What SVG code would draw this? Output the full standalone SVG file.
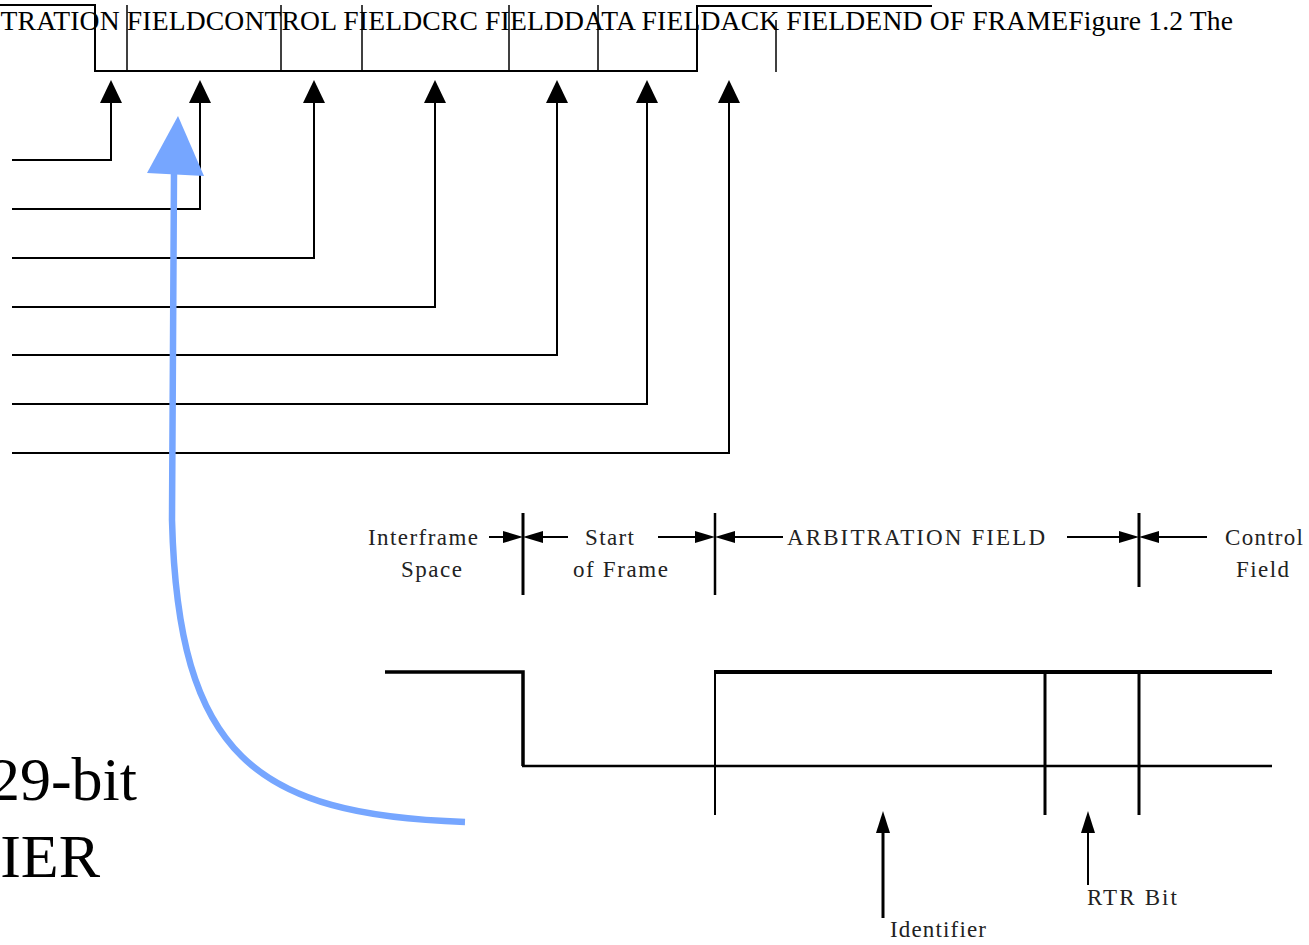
<svg xmlns="http://www.w3.org/2000/svg" width="1309" height="945" viewBox="0 0 1309 945">
<style>
.ln{stroke:#000;stroke-width:2;fill:none}
.lnt{stroke:#000;stroke-width:1.5;fill:none}
.thick{stroke:#000;stroke-width:3.5;fill:none}
.ah{fill:#000}
.top{font-family:"Liberation Serif","Times New Roman",serif;font-size:27.6px;fill:#000}
.lbl{font-family:"Liberation Serif","Times New Roman",serif;font-size:23px;fill:#222}
.big{font-family:"Liberation Serif","Times New Roman",serif;font-size:62px;fill:#000}
</style>
<rect width="1309" height="945" fill="#fff"/>
<g id="frame-top">
<text class="top" x="-66" y="30" textLength="1299" lengthAdjust="spacing">ARBITRATION FIELDCONTROL FIELDCRC FIELDDATA FIELDACK FIELDEND OF FRAMEFigure 1.2 The</text>
<polyline class="ln" points="0,5 95,5 95,71 697,71 697,6 932,6"/>
<line class="lnt" x1="127" y1="5" x2="127" y2="71"/>
<line class="lnt" x1="281" y1="5" x2="281" y2="71"/>
<line class="lnt" x1="362" y1="5" x2="362" y2="71"/>
<line class="lnt" x1="509" y1="5" x2="509" y2="71"/>
<line class="lnt" x1="598" y1="5" x2="598" y2="71"/>
<line class="lnt" x1="776" y1="20" x2="776" y2="72"/>
</g>
<g id="connectors-top">
<polyline class="ln" points="12,160 111,160 111,100"/>
<polygon class="ah" points="111,80 100,103 122,103"/>
<polyline class="ln" points="12,209 200,209 200,100"/>
<polygon class="ah" points="200,80 189,103 211,103"/>
<polyline class="ln" points="12,258 314,258 314,100"/>
<polygon class="ah" points="314,80 303,103 325,103"/>
<polyline class="ln" points="12,307 435,307 435,100"/>
<polygon class="ah" points="435,80 424,103 446,103"/>
<polyline class="ln" points="12,355 557,355 557,100"/>
<polygon class="ah" points="557,80 546,103 568,103"/>
<polyline class="ln" points="12,404 647,404 647,100"/>
<polygon class="ah" points="647,80 636,103 658,103"/>
<polyline class="ln" points="12,453 729,453 729,100"/>
<polygon class="ah" points="729,80 718,103 740,103"/>
</g>
<g id="big-label">
<text class="big" x="137" y="800" text-anchor="end">29-bit</text>
<text class="big" x="100" y="877" text-anchor="end">IER</text>
</g>
<g id="blue-arrow">
<path d="M465,822 C255,815 178,755 172,520 L174,172" stroke="#76A6FF" stroke-width="6.5" fill="none"/>
<polygon points="178,116 147,173 204,176" fill="#76A6FF"/>
</g>
<g id="field-labels">
<text class="lbl" x="368" y="545" textLength="110" lengthAdjust="spacing">Interframe</text>
<text class="lbl" x="401" y="577" textLength="61" lengthAdjust="spacing">Space</text>
<text class="lbl" x="585" y="545" textLength="49" lengthAdjust="spacing">Start</text>
<text class="lbl" x="573" y="577" textLength="95" lengthAdjust="spacing">of Frame</text>
<text class="lbl" x="787" y="545" textLength="258" lengthAdjust="spacing">ARBITRATION FIELD</text>
<text class="lbl" x="1225" y="545" textLength="78" lengthAdjust="spacing">Control</text>
<text class="lbl" x="1236" y="577" textLength="53" lengthAdjust="spacing">Field</text>
</g>
<g id="dimensions">
<line class="ln" x1="489" y1="537" x2="505" y2="537"/>
<polygon class="ah" points="523,537 503,531 503,543"/>
<polygon class="ah" points="523,537 543,531 543,543"/>
<line class="ln" x1="541" y1="537" x2="568" y2="537"/>
<line class="thick" x1="523" y1="513" x2="523" y2="595" style="stroke-width:3"/>
<line class="ln" x1="658" y1="537" x2="698" y2="537"/>
<polygon class="ah" points="715,537 695,531 695,543"/>
<polygon class="ah" points="715,537 735,531 735,543"/>
<line class="ln" x1="733" y1="537" x2="783" y2="537"/>
<line class="thick" x1="715" y1="513" x2="715" y2="595" style="stroke-width:2.5"/>
<line class="ln" x1="1067" y1="537" x2="1122" y2="537"/>
<polygon class="ah" points="1139,537 1119,531 1119,543"/>
<polygon class="ah" points="1139,537 1159,531 1159,543"/>
<line class="ln" x1="1156" y1="537" x2="1207" y2="537"/>
<line class="thick" x1="1139" y1="513" x2="1139" y2="587" style="stroke-width:3"/>
</g>
<g id="waveform">
<polyline class="thick" points="385,672 523,672 523,766" style="stroke-width:3.5"/>
<line class="ln" x1="522" y1="766" x2="1272" y2="766" style="stroke-width:2.5"/>
<line class="ln" x1="715" y1="672" x2="715" y2="815" style="stroke-width:2"/>
<line class="thick" x1="714" y1="672" x2="1272" y2="672" style="stroke-width:4"/>
<line class="thick" x1="1045" y1="672" x2="1045" y2="815" style="stroke-width:3"/>
<line class="thick" x1="1139" y1="672" x2="1139" y2="815" style="stroke-width:3"/>
</g>
<g id="identifier">
<line class="ln" x1="883" y1="828" x2="883" y2="918" style="stroke-width:3"/>
<polygon class="ah" points="883,811 876,833 890,833"/>
<text class="lbl" x="890" y="937" textLength="96" lengthAdjust="spacing">Identifier</text>
</g>
<g id="rtr-bit">
<line class="ln" x1="1088" y1="828" x2="1088" y2="885" style="stroke-width:2"/>
<polygon class="ah" points="1088,811 1081,833 1095,833"/>
<text class="lbl" x="1087" y="905" textLength="90" lengthAdjust="spacing">RTR Bit</text>
</g>
</svg>
